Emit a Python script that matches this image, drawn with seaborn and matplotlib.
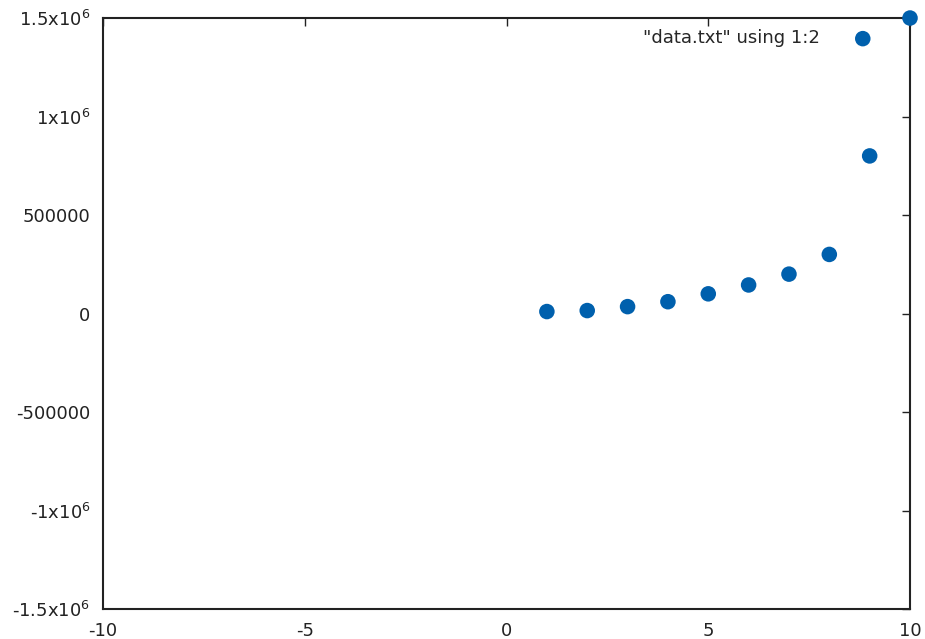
import matplotlib
matplotlib.use("Agg")
import matplotlib.pyplot as plt
import seaborn as sns
import pandas as pd

# values
xs = [1, 2, 3, 4, 5, 6, 7, 8, 9, 10]
ys = [10000, 15000, 35000, 60000, 100000, 145000, 200000, 300000, 800000, 1500000]

x_ticks = [-10, -5, 0, 5, 10]
y_ticks = [-1.5e6, -1e6, -5e5, 0, 5e5, 1e6, 1.5e6]
y_labels = [r"-1.5x10$^{6}$", r"-1x10$^{6}$", "-500000", "0", "500000",
            r"1x10$^{6}$", r"1.5x10$^{6}$"]
series_name = '"data.txt" using 1:2'

sns.set_style("white")
plt.rcParams["font.family"] = ["DejaVu Sans"]
plt.rcParams["mathtext.default"] = "regular"

df = pd.DataFrame({"x": xs, "y": ys})

fig = plt.figure(figsize=(9.25, 6.39), dpi=100)
ax = fig.add_axes([0.1114, 0.0469, 0.8724, 0.9249])

sns.scatterplot(data=df, x="x", y="y", ax=ax, color="#0060ad", s=125,
                edgecolor="none", label=series_name, clip_on=False, zorder=5)

ax.set_xlim(-10, 10)
ax.set_ylim(-1.5e6, 1.5e6)
ax.set_xticks(x_ticks)
ax.set_xticklabels([str(t) for t in x_ticks])
ax.set_yticks(y_ticks)
ax.set_yticklabels(y_labels)
ax.set_xlabel("")
ax.set_ylabel("")

ax.tick_params(direction="in", length=6, width=1, top=True, right=True,
               labelsize=13, colors="#222222", pad=9)
ax.tick_params(axis="x", pad=9)
for sp in ax.spines.values():
    sp.set_linewidth(1.5)
    sp.set_color("#222222")
    sp.set_zorder(3)

ax.legend(loc="upper right", bbox_to_anchor=(0.9616, 0.993), frameon=False,
          markerfirst=False, fontsize=13, handletextpad=1.9,
          borderaxespad=0, handlelength=1.0)

fig.savefig("out.png", dpi=100)
